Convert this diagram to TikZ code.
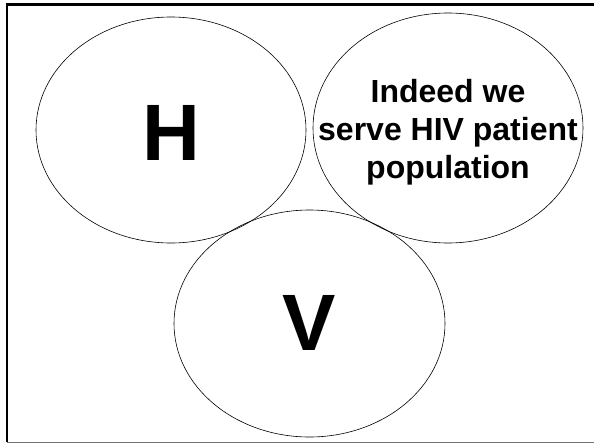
\documentclass[tikz,border=0pt]{standalone}
\usepackage{fontspec}
\setmainfont{Liberation Sans}
\usetikzlibrary{shapes.geometric}
\begin{document}
\begin{tikzpicture}[x=1pt,y=-1pt,
  blob/.style={ellipse, draw=black, line width=0.6pt, inner sep=0pt},
  letter/.style={font=\bfseries\fontsize{80}{80}\selectfont, inner sep=0pt},
  body/.style={font=\bfseries\fontsize{32}{38}\selectfont, align=center, inner sep=0pt}]
\useasboundingbox (0,0) rectangle (594,445);
% frame
\draw[line width=2.5pt] (7,442) -- (7,4.5) -- (594,4.5);
\draw[line width=0.8pt, black!55] (7,442) -- (594,442);
% the three ellipses
\node[blob, minimum width=270pt, minimum height=226pt] (eH) at (171,130) {};
\node[blob, minimum width=270pt, minimum height=230pt] (eR) at (448,128) {};
\node[blob, minimum width=271pt, minimum height=227pt] (eV) at (309.5,323.5) {};
% labels
\node[letter] (tH) at (171.5,132.5) {H};
\node[letter] (tV) at (309,323) {V};
\node[body] (tR) at (448,132) {Indeed we\\serve HIV patient\\population};
\end{tikzpicture}
\end{document}
